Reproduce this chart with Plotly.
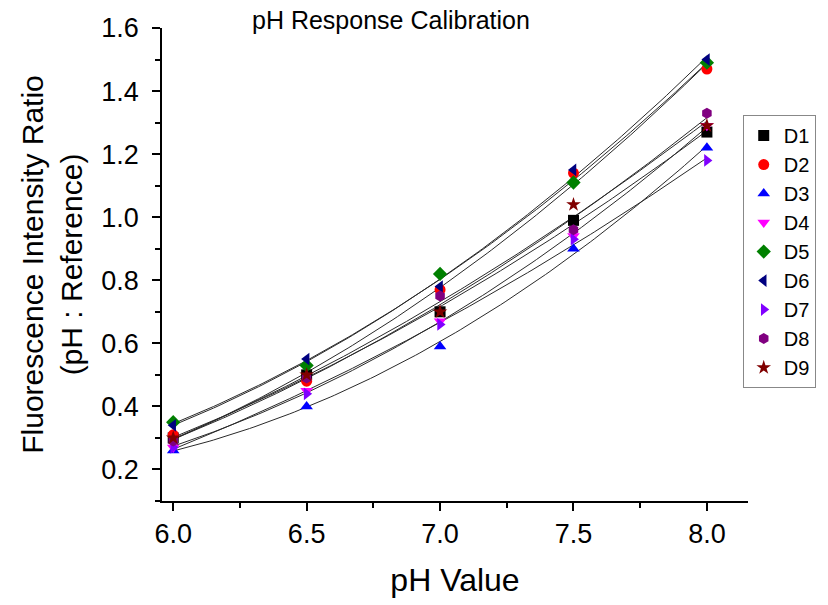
import numpy as np
import plotly.graph_objects as go

# ---- data ----
ph_values = [6.0, 6.5, 7.0, 7.5, 8.0]
series_names = ["D1", "D2", "D3", "D4", "D5", "D6", "D7", "D8", "D9"]
D1 = [0.30, 0.50, 0.70, 0.99, 1.27]
D2 = [0.31, 0.48, 0.77, 1.14, 1.47]
D3 = [0.26, 0.40, 0.59, 0.90, 1.22]
D4 = [0.27, 0.45, 0.67, 0.94, 1.29]
D5 = [0.35, 0.53, 0.82, 1.11, 1.49]
D6 = [0.34, 0.55, 0.78, 1.15, 1.50]
D7 = [0.27, 0.44, 0.66, 0.93, 1.18]
D8 = [0.29, 0.49, 0.75, 0.96, 1.33]
D9 = [0.30, 0.50, 0.70, 1.04, 1.29]
series_values = [D1, D2, D3, D4, D5, D6, D7, D8, D9]
x_ticks = [6.0, 6.5, 7.0, 7.5, 8.0]
y_ticks = [0.2, 0.4, 0.6, 0.8, 1.0, 1.2, 1.4, 1.6]

# ---- styles ----
colors = ["#000000", "#FF0000", "#0000FF", "#FF00FF", "#008000",
          "#000080", "#8000FF", "#800080", "#800000"]
symbols = ["square", "circle", "triangle-up", "triangle-down", "diamond",
           "triangle-left", "triangle-right", "hexagon", "star"]
FONT = "Arial, Liberation Sans, sans-serif"

fig = go.Figure()

# second-order polynomial fit curves through each series
xs = np.linspace(min(ph_values), max(ph_values), 120)
for vals in series_values:
    coef = np.polyfit(ph_values, vals, 2)
    fig.add_trace(go.Scatter(x=xs, y=np.polyval(coef, xs), mode="lines",
                             line=dict(color="#2a2a2a", width=1),
                             showlegend=False, hoverinfo="skip"))

for name, vals, c, s in zip(series_names, series_values, colors, symbols):
    fig.add_trace(go.Scatter(x=ph_values, y=vals, mode="markers", name=name,
                             marker=dict(color=c, symbol=s, size=11,
                                         line=dict(width=0))))

fig.update_layout(
    width=828, height=605,
    margin=dict(l=162, r=80, t=28, b=104, autoexpand=False),
    plot_bgcolor="white", paper_bgcolor="white",
    font=dict(family=FONT, color="black"),
    showlegend=True,
    legend=dict(x=0.991, xanchor="left", y=0.816, yanchor="top",
                bordercolor="#888888", borderwidth=1, bgcolor="white",
                font=dict(size=20, family=FONT), tracegroupgap=0),
    annotations=[dict(text="pH Response Calibration", xref="paper", yref="paper",
                      x=0.39, y=1.017, xanchor="center", yanchor="middle",
                      showarrow=False, font=dict(size=25, family=FONT))],
)

fig.update_xaxes(range=[5.958, 8.154], tickvals=x_ticks, ticktext=[f"{v:.1f}" for v in x_ticks],
                 showgrid=False, zeroline=False, showline=True, linecolor="black", linewidth=1.5,
                 ticks="outside", ticklen=8, tickwidth=1.5, tickcolor="black",
                 tickfont=dict(size=27, family=FONT), ticklabelstandoff=0,
                 minor=dict(dtick=0.25, tick0=6.0, ticks="outside", ticklen=5, tickwidth=1.5,
                            tickcolor="black", showgrid=False),
                 title=dict(text="pH Value", font=dict(size=32, family=FONT), standoff=20))
fig.update_yaxes(range=[0.1, 1.6], tickvals=y_ticks, ticktext=[f"{v:.1f}" for v in y_ticks],
                 showgrid=False, zeroline=False, showline=True, linecolor="black", linewidth=1.5,
                 ticks="outside", ticklen=8, tickwidth=1.5, tickcolor="black",
                 tickfont=dict(size=27, family=FONT), ticklabelstandoff=8,
                 minor=dict(dtick=0.1, tick0=0.1, ticks="outside", ticklen=5, tickwidth=1.5,
                            tickcolor="black", showgrid=False),
                 title=dict(text="Fluorescence Intensity Ratio<br>(pH : Reference)",
                            font=dict(size=30, family=FONT), standoff=10))

fig.write_html("out.html")
